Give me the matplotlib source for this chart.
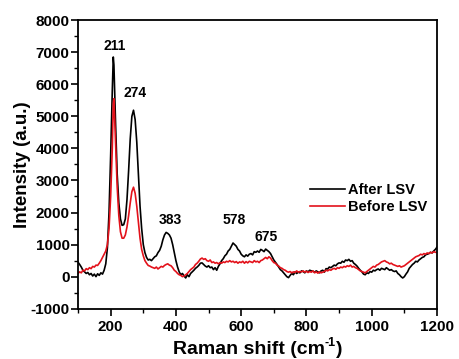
import numpy as np
import matplotlib
matplotlib.use("Agg")
import matplotlib.pyplot as plt
from matplotlib.ticker import MultipleLocator

plt.rcParams['font.family'] = ['Liberation Sans', 'DejaVu Sans']
plt.rcParams['font.weight'] = 'bold'
plt.rcParams['axes.unicode_minus'] = False

# Raman shift axis (cm^-1)
shift = [100, 105, 110, 115, 120, 125, 130, 135, 140, 145, 150, 155, 160, 165, 170, 175,
         180, 185, 190, 195, 200, 205, 208, 210, 215, 220, 225, 230, 235, 240, 245, 250,
         255, 260, 265, 270, 275, 280, 285, 290, 295, 300, 305, 310, 315, 320, 325, 330,
         335, 340, 345, 350, 355, 360, 365, 370, 375, 380, 385, 390, 395, 400, 405, 410,
         415, 420, 425, 430, 435, 440, 445, 450, 455, 460, 465, 470, 475, 480, 485, 490,
         495, 500, 505, 510, 515, 520, 525, 530, 535, 540, 545, 550, 555, 560, 565, 570,
         575, 580, 585, 590, 595, 600, 605, 610, 615, 620, 625, 630, 635, 640, 645, 650,
         655, 660, 665, 670, 675, 680, 685, 690, 695, 700, 705, 710, 715, 720, 725, 730,
         735, 740, 745, 750, 755, 760, 765, 770, 775, 780, 785, 790, 795, 800, 805, 810,
         815, 820, 825, 830, 835, 840, 845, 850, 855, 860, 865, 870, 875, 880, 885, 890,
         895, 900, 905, 910, 915, 920, 925, 930, 935, 940, 945, 950, 955, 960, 965, 970,
         975, 980, 985, 990, 995, 1000, 1005, 1010, 1015, 1020, 1025, 1030, 1035, 1040,
         1045, 1050, 1055, 1060, 1065, 1070, 1075, 1080, 1085, 1090, 1095, 1100, 1105,
         1110, 1115, 1120, 1125, 1130, 1135, 1140, 1145, 1150, 1155, 1160, 1165, 1170,
         1175, 1180, 1185, 1190, 1195, 1200]

# Intensity after LSV (a.u.)
after_lsv = [450, 380, 300, 200, 150, 100, 130, 60, 100, 20, 80, 0, 90, 40, 120, 80,
             200, 400, 900, 2000, 3800, 5800, 6850, 6600, 4800, 3200, 2300, 1800, 1600, 1620, 1800, 2400,
             3300, 4300, 5000, 5190, 4900, 4200, 3200, 2200, 1500, 1000, 750, 600, 520, 540, 500, 560,
             620, 650, 750, 820, 950, 1150, 1300, 1380, 1350, 1300, 1200, 1000, 750, 500, 300, 150,
             60, 100, 20, -40, 60, 0, 100, 150, 200, 260, 300, 350, 420, 430, 380, 330,
             300, 340, 280, 300, 220, 280, 200, 320, 400, 500, 560, 650, 700, 800, 850, 950,
             1050, 1000, 950, 850, 800, 700, 650, 620, 680, 640, 700, 720, 680, 780, 760, 800,
             760, 850, 820, 780, 860, 820, 780, 720, 620, 520, 450, 380, 300, 220, 180, 120,
             60, 0, -30, 40, 100, 60, 150, 100, 140, 120, 180, 160, 120, 180, 150, 200,
             180, 170, 140, 180, 150, 120, 180, 200, 140, 250, 240, 300, 280, 320, 360, 340,
             400, 430, 420, 480, 450, 520, 500, 540, 480, 500, 420, 380, 330, 260, 200, 150,
             80, 60, 120, 100, 160, 140, 200, 180, 220, 240, 200, 260, 240, 220,
             280, 240, 200, 220, 180, 160, 180, 100, 60, 0, -40, 0, 80,
             150, 260, 320, 380, 420, 480, 460, 520, 560, 600, 620, 680, 700,
             720, 760, 740, 800, 850, 920]

# Intensity before LSV (a.u.)
before_lsv = [100, 150, 120, 200, 180, 250, 220, 280, 250, 320, 300, 360, 350, 420, 500, 600,
              700, 800, 1000, 1500, 2500, 4000, 5400, 5550, 4200, 2800, 1900, 1400, 1200, 1200, 1300, 1550,
              1900, 2300, 2650, 2790, 2600, 2200, 1700, 1200, 850, 650, 500, 420, 350, 330, 300, 280,
              260, 300, 240, 280, 320, 300, 350, 380, 400, 360, 340, 280, 200, 160, 100, 60,
              40, 0, 20, 60, 100, 160, 220, 260, 300, 380, 420, 480, 550, 580, 540, 560,
              500, 480, 520, 440, 460, 420, 440, 400, 440, 420, 460, 440, 480, 460, 500, 460,
              480, 440, 470, 420, 460, 440, 480, 420, 470, 430, 480, 460, 440, 500, 460, 480,
              440, 500, 520, 560, 600, 560, 620, 580, 500, 440, 420, 360, 330, 280, 260, 220,
              200, 160, 140, 160, 120, 150, 130, 180, 140, 160, 150, 180, 140, 170, 130, 160,
              140, 180, 120, 150, 110, 150, 120, 140, 160, 200, 180, 220, 200, 240, 260, 230,
              280, 260, 300, 280, 320, 300, 340, 320, 360, 300, 320, 280, 260, 220, 180, 160,
              140, 120, 160, 200, 240, 280, 320, 300, 360, 380, 420, 460, 480, 500,
              460, 440, 400, 420, 380, 360, 340, 320, 340, 300, 320, 340, 380,
              420, 460, 500, 540, 580, 620, 640, 660, 700, 680, 720, 700, 740,
              720, 760, 740, 780, 760, 760]

peak_labels = ["211", "274", "383", "578", "675"]
peak_pos = [(211, 7200), (274, 5720), (383, 1780), (578, 1780), (675, 1230)]

W, H = 459, 359
fig = plt.figure(figsize=(W / 100, H / 100), dpi=100)
ax = fig.add_axes([0.170, 0.140, 0.782, 0.804])

ax.plot(shift, after_lsv, color='black', lw=1.2, label='After LSV')
ax.plot(shift, before_lsv, color='#e3121b', lw=1.2, label='Before LSV')

for txt, (px, py) in zip(peak_labels, peak_pos):
    ax.text(px, py, txt, ha='center', va='center', fontsize=10, fontweight='bold')

ax.set_xlim(100, 1200)
ax.set_ylim(-1000, 8000)
ax.xaxis.set_major_locator(MultipleLocator(200))
ax.xaxis.set_minor_locator(MultipleLocator(100))
ax.yaxis.set_major_locator(MultipleLocator(1000))
ax.yaxis.set_minor_locator(MultipleLocator(500))

for s in ax.spines.values():
    s.set_linewidth(1.3)

ax.tick_params(axis='both', which='major', direction='out', length=5, width=1.2,
               labelsize=11)
ax.tick_params(axis='both', which='minor', direction='out', length=3, width=1.0)
ax.tick_params(axis='y', which='major', pad=1)
ax.tick_params(axis='x', which='major', pad=3)
for lbl in ax.get_xticklabels() + ax.get_yticklabels():
    lbl.set_fontweight('bold')

ax.set_ylabel('Intensity (a.u.)', fontsize=13.5, fontweight='bold', va='center')
ax.yaxis.set_label_coords(-0.156, 0.5)

# x-axis title assembled from pieces so the "-1" sits as a small superscript
renderer = fig.canvas.get_renderer()
parts = [('Raman shift (cm', 14, 0), ('-1', 9, 7), (')', 14, 0)]
texts = [fig.text(0, 0, s, fontsize=fs, fontweight='bold', va='baseline', ha='left')
         for s, fs, _ in parts]
widths = [t.get_window_extent(renderer).width for t in texts]
x_center = (ax.get_position().x0 + ax.get_position().x1) / 2 * W
baseline = 5.5
x = x_center - sum(widths) / 2
for t, w, (_, _, rise) in zip(texts, widths, parts):
    t.set_position((x / W, (baseline + rise) / H))
    x += w

leg = ax.legend(loc='center left', bbox_to_anchor=(0.646, 0.382), frameon=False,
                fontsize=10.5, handlelength=2.4, handletextpad=0.2, labelspacing=0.25,
                borderpad=0, borderaxespad=0)
for t in leg.get_texts():
    t.set_fontweight('bold')

fig.savefig('out.png', dpi=100)
